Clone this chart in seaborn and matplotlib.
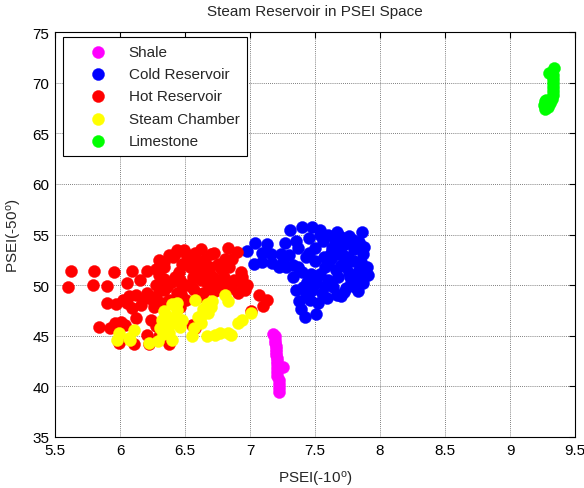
import matplotlib
matplotlib.use("Agg")
import matplotlib.pyplot as plt
import seaborn as sns
import pandas as pd

# ---- data: PSEI(-10°) vs PSEI(-50°) for each zone ----
shale_x = [7.18, 7.19, 7.19, 7.19, 7.20, 7.20, 7.20, 7.20, 7.21, 7.21, 7.21, 7.25,
           7.21, 7.21, 7.21, 7.22, 7.22, 7.22, 7.22]
shale_y = [45.2, 45.0, 44.6, 44.3, 44.0, 43.7, 43.4, 43.1, 42.8, 42.5, 42.2, 41.9,
           41.8, 41.4, 41.0, 40.6, 40.2, 39.8, 39.4]

cold_x = [6.98, 7.04, 7.13, 7.09, 7.16, 7.24, 7.03, 7.09, 7.22, 7.27, 7.31, 7.40,
          7.48, 7.54, 7.60, 7.67, 7.76, 7.86, 7.37, 7.43, 7.50, 7.54, 7.28, 7.33,
          7.35, 7.38, 7.39, 7.42, 7.51, 7.52, 7.55, 7.51, 7.47, 7.60, 7.67, 7.73,
          7.80, 7.87, 7.90, 7.91, 7.87, 7.81, 7.74, 7.67, 7.68, 7.74, 7.80, 7.84,
          7.66, 7.60, 7.64, 7.77, 7.82, 7.57, 7.63, 7.54, 7.43, 7.46, 7.40, 7.25,
          7.37, 7.45, 7.35, 7.71, 7.79,
          7.58, 7.62, 7.70, 7.75, 7.85, 7.88, 7.72, 7.78, 7.56, 7.65, 7.70, 7.50,
          7.44, 7.41, 7.48, 7.58, 7.84, 7.30, 7.33, 7.17, 7.45, 7.59, 7.70, 7.52,
          7.76, 7.83, 7.62, 7.68]
cold_y = [53.4, 54.2, 54.1, 53.2, 53.1, 53.1, 52.1, 52.3, 51.8, 54.2, 55.4, 55.7,
          55.7, 55.4, 55.0, 55.2, 54.9, 55.2, 53.7, 52.8, 53.7, 55.0, 51.8, 50.8,
          49.5, 48.4, 47.6, 46.9, 47.1, 48.2, 49.2, 50.2, 51.1, 52.1, 53.1, 54.1,
          53.6, 53.1, 51.8, 51.0, 50.2, 49.8, 49.7, 49.0, 50.8, 51.8, 52.4, 51.5,
          51.5, 50.5, 49.8, 50.8, 50.8, 52.8, 53.7, 51.1, 49.2, 48.5, 51.3, 52.3,
          51.8, 54.7, 54.4, 53.1, 54.5,
          51.8, 53.2, 52.0, 52.8, 52.3, 53.8, 49.3, 50.2, 54.4, 54.3, 54.8, 52.4,
          50.3, 49.8, 49.5, 49.9, 54.3, 53.0, 52.0, 52.2, 53.2, 48.7, 48.9, 50.9,
          51.2, 49.4, 52.6, 53.6]

hot_x = [5.62, 5.60, 5.80, 5.79, 5.90, 5.95, 6.05, 6.09, 6.15, 6.21, 6.28, 6.34,
         6.41, 6.49, 6.62, 6.72, 6.83, 6.81, 6.84, 6.93, 6.93, 6.96, 7.07, 7.13,
         7.10, 7.01, 6.91, 6.83, 6.73, 6.67, 6.60, 6.54, 6.45, 6.40, 6.34, 6.28,
         6.21, 6.25, 6.19, 6.09, 6.02, 6.07, 5.97, 5.90, 5.84, 5.92, 6.01, 6.04,
         5.99, 6.11, 6.21, 6.24, 6.22, 6.38, 6.42, 6.51, 6.57, 6.64, 6.58, 6.55,
         6.74, 6.69, 6.75, 6.65, 6.57, 6.48, 6.42, 6.34, 6.28, 6.38, 6.44, 6.51,
         6.60, 6.70, 6.62, 6.69, 6.80, 6.85, 6.94, 6.42, 6.34, 6.51, 6.56, 6.48,
         6.30, 6.36, 6.46, 6.52, 6.58, 6.66, 6.72, 6.78, 6.62, 6.55, 6.47, 6.33,
         6.26, 6.16, 6.12, 6.05, 6.38, 6.30, 6.44, 6.76, 6.88, 6.98, 6.86, 6.90,
         6.70, 6.60, 6.46, 6.28, 6.30, 6.12, 5.96]
hot_y = [51.4, 49.8, 51.4, 50.0, 49.9, 51.3, 50.2, 51.4, 50.5, 51.4, 51.6, 52.3,
         52.8, 53.5, 53.6, 53.2, 53.7, 52.6, 51.8, 51.3, 50.2, 49.5, 49.0, 48.5,
         47.9, 47.4, 49.2, 50.0, 49.4, 50.2, 50.8, 51.8, 51.3, 50.3, 50.6, 50.0,
         49.2, 48.4, 48.7, 47.7, 48.5, 48.9, 48.1, 48.2, 45.9, 45.8, 46.4, 46.1,
         44.3, 44.2, 45.1, 46.6, 44.2, 44.2, 46.6, 48.5, 49.5, 49.2, 45.8, 46.1,
         50.2, 51.1, 52.1, 52.6, 52.1, 52.1, 50.8, 49.5, 48.9, 48.5, 49.2, 50.0,
         51.8, 53.1, 50.5, 51.8, 50.8, 49.7, 50.8, 53.1, 51.8, 53.1, 50.8, 50.0,
         51.0, 49.8, 50.5, 52.6, 53.2, 51.5, 50.7, 51.6, 52.3, 49.8, 49.1, 48.2,
         47.8, 48.0, 49.0, 48.2, 53.0, 52.5, 53.5, 49.8, 50.5, 50.0, 52.6, 53.3,
         49.6, 48.8, 47.8, 46.0, 45.0, 46.8, 46.3]

steam_x = [5.99, 5.98, 6.07, 6.11, 6.08, 6.22, 6.29, 6.31, 6.32, 6.34, 6.40, 6.44,
           6.40, 6.46, 6.35, 6.40, 6.37, 6.48, 6.58, 6.60, 6.62, 6.64, 6.67, 6.71,
           6.68, 6.67, 6.73, 6.77, 6.83, 6.85, 6.81, 6.83, 6.91, 6.94, 7.01, 6.55,
           6.57, 6.36, 6.42, 6.38, 6.33, 6.44, 6.62, 6.70]
steam_y = [45.3, 44.6, 44.8, 45.6, 44.6, 44.3, 44.5, 45.8, 46.6, 47.4, 48.1, 48.2,
           46.3, 45.9, 45.3, 44.6, 45.9, 46.6, 48.5, 46.9, 46.3, 47.6, 48.1, 48.4,
           47.2, 45.0, 45.1, 45.3, 45.3, 45.1, 49.0, 48.4, 46.3, 46.6, 47.2, 45.0,
           45.8, 47.0, 46.8, 45.3, 45.2, 47.5, 47.0, 47.8]

lime_x = [9.34, 9.30, 9.33, 9.33, 9.33, 9.33, 9.33, 9.33, 9.32, 9.31, 9.29, 9.27,
          9.26, 9.27, 9.28]
lime_y = [71.4, 71.0, 70.8, 70.4, 70.0, 69.6, 69.2, 68.8, 68.4, 68.0, 67.6, 67.4,
          67.8, 68.2, 68.3]

zones = ["Shale", "Cold Reservoir", "Hot Reservoir", "Steam Chamber", "Limestone"]
zone_colors = ["#FF00FF", "#0000FF", "#FF0000", "#FFFF00", "#00FF00"]

x_ticks = [5.5, 6, 6.5, 7, 7.5, 8, 8.5, 9, 9.5]
y_ticks = [35, 40, 45, 50, 55, 60, 65, 70, 75]

series = {
    "Shale": (shale_x, shale_y),
    "Cold Reservoir": (cold_x, cold_y),
    "Hot Reservoir": (hot_x, hot_y),
    "Steam Chamber": (steam_x, steam_y),
    "Limestone": (lime_x, lime_y),
}
df = pd.concat(
    [pd.DataFrame({"PSEI10": xs, "PSEI50": ys, "Zone": name})
     for name, (xs, ys) in series.items()],
    ignore_index=True,
)

# ---- styling ----
sns.set_style("white")
plt.rcParams["font.family"] = ["Liberation Sans", "DejaVu Sans"]
plt.rcParams["mathtext.fontset"] = "custom"
plt.rcParams["mathtext.rm"] = "Liberation Sans"
plt.rcParams["mathtext.it"] = "Liberation Sans"

fig = plt.figure(figsize=(5.84, 4.89), dpi=100)
ax = fig.add_axes([0.0942, 0.1043, 0.8904, 0.8282])

for name, color in zip(zones, zone_colors):
    sub = df[df["Zone"] == name]
    sns.scatterplot(data=sub, x="PSEI10", y="PSEI50", ax=ax, color=color,
                    s=75, edgecolor=color, linewidth=0.3, label=name, zorder=3)

ax.set_xlim(5.5, 9.5)
ax.set_ylim(35, 75)
ax.set_xticks(x_ticks)
ax.set_xticklabels([f"{t:g}" for t in x_ticks])
ax.set_yticks(y_ticks)
ax.set_yticklabels([f"{t:g}" for t in y_ticks])

ax.grid(True, color="#555555", linestyle=(0, (1, 1.5)), linewidth=0.6, zorder=0)
ax.set_axisbelow(True)
ax.tick_params(direction="in", length=4, width=0.8, top=True, right=True,
               labelsize=11, colors="black", pad=4)
for sp in ax.spines.values():
    sp.set_color("black")
    sp.set_linewidth(0.8)

ax.set_title("Steam Reservoir in PSEI Space", fontsize=11, pad=12)
ax.set_xlabel("PSEI(-10$^{\\mathrm{o}}$)", fontsize=11, labelpad=9)
ax.set_ylabel("PSEI(-50$^{\\mathrm{o}}$)", fontsize=11, labelpad=6)

leg = ax.legend(loc="upper left", bbox_to_anchor=(0.0154, 0.9877),
                borderaxespad=0, fontsize=11, frameon=True, fancybox=False,
                edgecolor="black", framealpha=1, borderpad=0.5,
                handlelength=3.6, handletextpad=0.2, labelspacing=0.55,
                scatterpoints=1)
leg.get_frame().set_linewidth(0.8)

fig.savefig("out.png", dpi=100)
